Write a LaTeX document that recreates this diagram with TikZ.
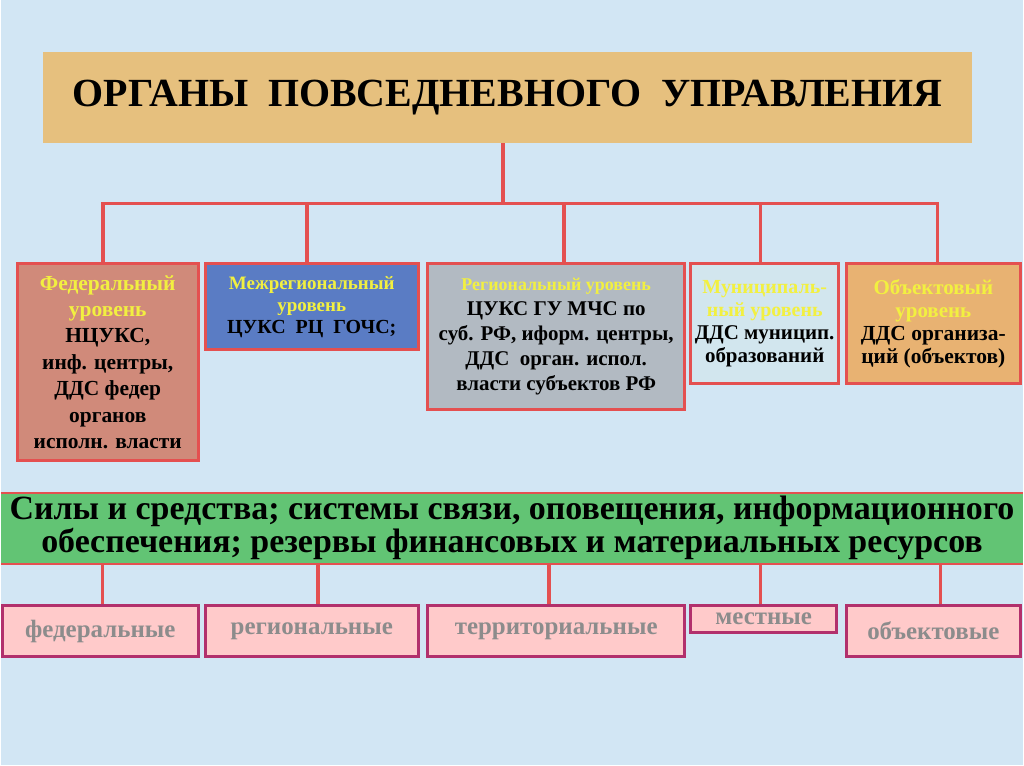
\documentclass[tikz,border=0pt]{standalone}
\usepackage{fontspec}
\setmainfont{Liberation Serif}
\definecolor{mybg}{HTML}{D2E6F4}
\definecolor{myred}{HTML}{E45050}
\definecolor{mytan}{HTML}{E6C07E}
\definecolor{myfed}{HTML}{D08A7A}
\definecolor{myblue}{HTML}{5A7CC4}
\definecolor{mygraybox}{HTML}{B2BAC2}
\definecolor{mymun}{HTML}{D2E6EE}
\definecolor{myobj}{HTML}{E8B272}
\definecolor{mygreen}{HTML}{62C474}
\definecolor{mymag}{HTML}{B2306C}
\definecolor{mypink}{HTML}{FFCACA}
\definecolor{mytext}{HTML}{8C8C8C}
\definecolor{myyel}{HTML}{F2F040}
\newcommand\hd[2]{{\fontsize{#1}{#1}\selectfont\color{myyel}#2}}

\begin{document}
\begin{tikzpicture}[x=1pt,y=-1pt]
\tikzset{link/.style={draw=myred,line width=3.5pt}}
\tikzset{level/.style={draw=myred,line width=3pt,align=center,inner sep=1pt,
  anchor=north west,font=\bfseries\fontsize{21}{25}\selectfont}}
\tikzset{res/.style={draw=mymag,line width=3pt,fill=mypink,text=mytext,anchor=north west,
  minimum height=52,font=\bfseries\fontsize{25}{25}\selectfont}}
\fill[mybg] (0,0) rectangle (1024,767);
% top block
\node[fill=mytan,anchor=north west,minimum width=931,minimum height=91,
  font=\bfseries\fontsize{40}{40}\selectfont] (org) at (42,52)
  {ОРГАНЫ\ \ ПОВСЕДНЕВНОГО\ \ УПРАВЛЕНИЯ};
% levels
\node[level,fill=myfed,minimum width=181,minimum height=197,
  font=\bfseries\fontsize{21.5}{26.5}\selectfont] (fed) at (15,263)
  {\hd{21.5}{Федеральный}\\ \hd{21.5}{уровень}\\ НЦУКС,\\ инф. центры,\\ ДДС федер\\ органов\\ исполн. власти};
\node[level,fill=myblue,minimum width=214,minimum height=86,
  font=\bfseries\fontsize{20}{22}\selectfont] (mezh) at (203,263)
  {\hd{19}{Межрегиональный}\\ \hd{19}{уровень}\\ ЦУКС\ \ РЦ\ \ ГОЧС;};
\node[level,fill=mygraybox,minimum width=258,minimum height=146] (reg) at (426,263)
  {\hd{18}{Региональный уровень}\\ ЦУКС ГУ МЧС по\\ суб. РФ, иформ. центры,\\ ДДС\ \ орган. испол.\\ власти субъектов РФ};
\node[level,fill=mymun,minimum width=148,minimum height=120,
  font=\bfseries\fontsize{21}{23}\selectfont] (mun) at (690,263)
  {\hd{20}{Муниципаль-}\\ \hd{20}{ный уровень}\\ ДДС муницип.\\ образований};
\node[level,fill=myobj,minimum width=174,minimum height=120,
  font=\bfseries\fontsize{21.5}{23}\selectfont] (obj) at (846,263)
  {\hd{21}{Объектовый}\\ \hd{21}{уровень}\\ ДДС организа-\\ ций (объектов)};
\coordinate (bus) at (503,204);
\draw[link] (org.south -| bus) -- (bus);
\foreach \n/\dx in {fed/-5,mezh/-5,reg/8,mun/-4,obj/4}
  \draw[link] (bus) -| ([xshift=\dx]\n.north);
% forces
\node[fill=mygreen,anchor=north west,minimum width=1024,minimum height=69,align=center,
  font=\bfseries\fontsize{34}{33}\selectfont] (sily) at (0,494)
  {Силы и средства; системы связи, оповещения, информационного\\ обеспечения; резервы финансовых и материальных ресурсов};
\draw[draw=myred,line width=2pt] (sily.north west) -- (sily.north east);
\draw[draw=myred,line width=2pt] (sily.south west) -- (sily.south east);
\node[res,minimum width=196] (sfed) at (0,605) {федеральные};
\node[res,minimum width=214] (sreg) at (203,605) {региональные};
\node[res,minimum width=258] (sterr) at (426,605) {территориальные};
\node[res,minimum width=146,minimum height=27] (smest) at (690,605) {местные};
\node[res,minimum width=174] (sobj) at (846,605) {объектовые};
\foreach \n/\dx in {sfed/2,sreg/6,sterr/-7,smest/-3,sobj/7}
  \draw[link] ([xshift=\dx]\n.north) -- ([xshift=\dx]\n.north |- sily.south);
\end{tikzpicture}
\end{document}
